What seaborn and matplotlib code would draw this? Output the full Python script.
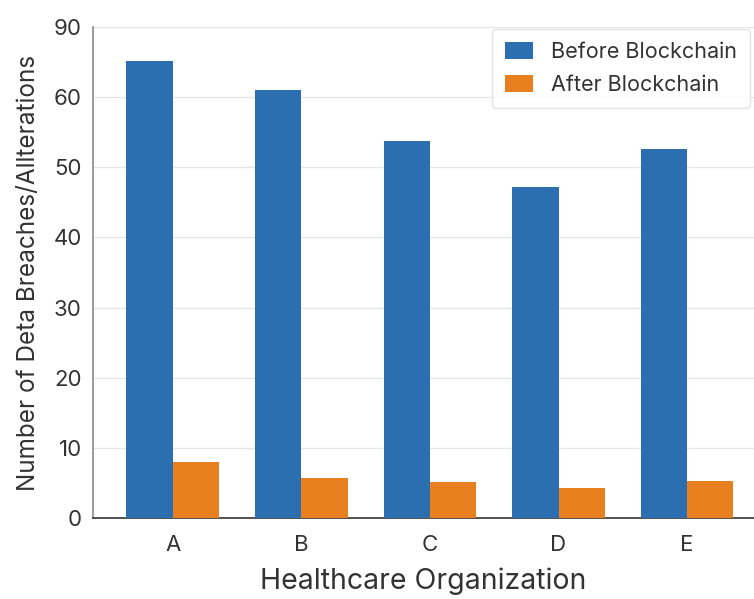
import matplotlib
matplotlib.use("Agg")
import matplotlib.pyplot as plt
import seaborn as sns
import pandas as pd

organizations = ["A", "B", "C", "D", "E"]
before_blockchain = [65.1, 61.0, 53.7, 47.2, 52.6]
after_blockchain = [8.0, 5.7, 5.1, 4.3, 5.3]
series_names = ["Before Blockchain", "After Blockchain"]
ytick_values = [0, 10, 20, 30, 40, 50, 60, 70]
ytick_labels = ["0", "10", "20", "30", "40", "50", "60", "90"]

df = pd.DataFrame({
    "Organization": organizations * 2,
    "Count": before_blockchain + after_blockchain,
    "Period": [series_names[0]] * len(organizations) + [series_names[1]] * len(organizations),
})

sns.set_theme(style="white")
plt.rcParams["font.family"] = ["Inter", "DejaVu Sans"]

fig = plt.figure(figsize=(7.54, 5.99), dpi=100)
ax = fig.add_axes([0.1233, 0.1352, 0.8767, 0.8197])

sns.barplot(
    data=df, x="Organization", y="Count", hue="Period",
    palette=["#2c6fb0", "#e8801f"], width=0.72, saturation=1,
    errorbar=None, ax=ax, zorder=3, linewidth=0,
)

ax.set_xlim(-0.62, 4.52)
ax.set_ylim(0, 70)
ax.set_yticks(ytick_values)
ax.set_yticklabels(ytick_labels)
ax.yaxis.grid(True, color="#e6e6e6", linewidth=1.0, zorder=0)
ax.set_axisbelow(True)

for side in ["top", "right"]:
    ax.spines[side].set_visible(False)
ax.spines["left"].set_color("#8a8a8a")
ax.spines["left"].set_linewidth(1.2)
ax.spines["bottom"].set_color("#333333")
ax.spines["bottom"].set_linewidth(1.2)

ax.tick_params(axis="both", length=0, labelsize=16, labelcolor="#333333")
ax.tick_params(axis="x", pad=12)
ax.tick_params(axis="y", pad=8)
ax.set_xlabel("Healthcare Organization", fontsize=20.5, color="#333333", labelpad=9)
ax.set_ylabel("Number of Deta Breaches/Allterations", fontsize=17.5, color="#333333", labelpad=10)

leg = ax.legend(
    loc="upper right", bbox_to_anchor=(750 / 754, 1 - 29 / 599),
    bbox_transform=fig.transFigure, borderaxespad=0, fontsize=15.5,
    frameon=True, fancybox=True, edgecolor="#dddddd",
    handlelength=1.3, handleheight=0.8, handletextpad=0.85, borderpad=0.6,
    labelspacing=0.6, title=None,
)
for t in leg.get_texts():
    t.set_color("#333333")

fig.savefig("out.png", dpi=100)
